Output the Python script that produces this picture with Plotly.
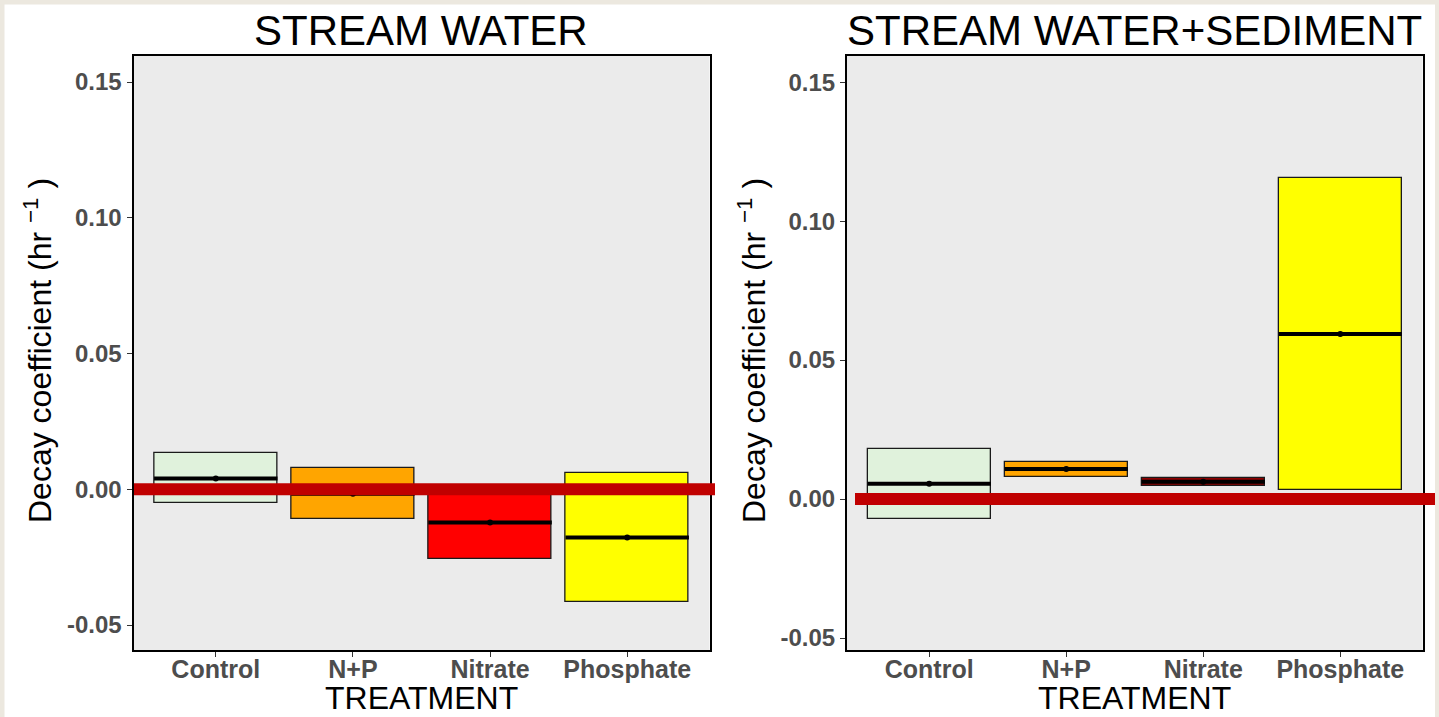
import plotly.graph_objects as go

# Treatments (same order in both panels)
treatments = ["Control", "N+P", "Nitrate", "Phosphate"]

# Stream water: box limits and medians of the decay coefficient (hr^-1)
water_lower = [-0.0052, -0.0108, -0.0255, -0.0415]
water_upper = [0.0132, 0.0080, -0.0012, 0.0060]
water_median = [0.0040, -0.0016, -0.0122, -0.0178]
water_colors = ["#E0F2DC", "#FFA500", "#FF0000", "#FFFF00"]

# Stream water + sediment
sed_lower = [-0.0070, 0.0079, 0.0048, 0.0034]
sed_upper = [0.0180, 0.0135, 0.0076, 0.1154]
sed_median = [0.0055, 0.0108, 0.0062, 0.0594]
sed_colors = ["#E0F2DC", "#FFA500", "#8B0000", "#FFFF00"]

panel_titles = ["STREAM WATER", "STREAM WATER+SEDIMENT"]
y_ticks = [-0.05, 0.0, 0.05, 0.10, 0.15]
y_ticktext = ["-0.05", "0.00", "0.05", "0.10", "0.15"]

W, H = 1439, 717
BOX_W = 0.9
FONT = "Liberation Sans, Arial, sans-serif"


def px(x):
    return x / W


def py(y):
    return 1 - y / H


fig = go.Figure()

panels = [
    dict(lower=water_lower, upper=water_upper, median=water_median,
         colors=water_colors, xa="x", ya="y"),
    dict(lower=sed_lower, upper=sed_upper, median=sed_median,
         colors=sed_colors, xa="x2", ya="y2"),
]

xpos = list(range(1, len(treatments) + 1))

for p in panels:
    heights = [u - l for u, l in zip(p["upper"], p["lower"])]
    fig.add_trace(go.Bar(
        x=xpos, y=heights, base=p["lower"], width=BOX_W,
        marker=dict(color=p["colors"], line=dict(color="#1a1a1a", width=1.3)),
        xaxis=p["xa"], yaxis=p["ya"], showlegend=False, hoverinfo="skip",
    ))
    mx, my = [], []
    for i, m in zip(xpos, p["median"]):
        mx += [i - BOX_W / 2, i + BOX_W / 2, None]
        my += [m, m, None]
    fig.add_trace(go.Scatter(
        x=mx, y=my, mode="lines", line=dict(color="black", width=4),
        xaxis=p["xa"], yaxis=p["ya"], showlegend=False, hoverinfo="skip",
    ))
    fig.add_trace(go.Scatter(
        x=xpos, y=p["median"], mode="markers",
        marker=dict(color="black", size=6),
        xaxis=p["xa"], yaxis=p["ya"], showlegend=False, hoverinfo="skip",
    ))

axis_common = dict(
    showline=True, linecolor="black", linewidth=2, mirror=True,
    showgrid=False, zeroline=False, ticks="outside", ticklen=5,
    tickcolor="#333333", tickwidth=1.2,
)
xtick_font = dict(family=FONT, size=25, color="#4D4D4D", weight="bold")
ytick_font = dict(family=FONT, size=24, color="#4D4D4D", weight="bold")

fig.update_layout(
    width=W, height=H,
    margin=dict(l=0, r=0, t=0, b=0),
    paper_bgcolor="white", plot_bgcolor="#EBEBEB",
    bargap=0, barmode="overlay",
    xaxis=dict(domain=[px(133.5), px(709.5)], range=[0.4, 4.6],
               tickvals=xpos, ticktext=treatments, tickfont=xtick_font,
               ticklabelstandoff=-9, **axis_common),
    yaxis=dict(domain=[py(650), py(56)], range=[-0.0592, 0.1596],
               tickvals=y_ticks, ticktext=y_ticktext, tickfont=ytick_font,
               **axis_common),
    xaxis2=dict(domain=[px(847), px(1422.5)], range=[0.4, 4.6], anchor="y2",
                tickvals=xpos, ticktext=treatments, tickfont=xtick_font,
                ticklabelstandoff=-9, **axis_common),
    yaxis2=dict(domain=[py(650), py(56)], range=[-0.0543, 0.1594], anchor="x2",
                tickvals=y_ticks, ticktext=y_ticktext, tickfont=ytick_font,
                **axis_common),
)

# Beige frame around the white page
beige = "#ECE8DF"
frame = [(0, 0, 4.5, H), (0, 0, W, 4.5), (1435, 0, W, H)]
for x0, y0, x1, y1 in frame:
    fig.add_shape(type="rect", xref="paper", yref="paper",
                  x0=px(x0), x1=px(x1), y0=py(y1), y1=py(y0),
                  fillcolor=beige, line=dict(width=0), layer="below")

# Zero reference lines
fig.add_shape(type="line", xref="paper", yref="y", x0=px(134), x1=px(715),
              y0=0, y1=0, line=dict(color="#C00000", width=12))
fig.add_shape(type="line", xref="paper", yref="y2", x0=px(855), x1=px(1435),
              y0=0, y1=0, line=dict(color="#C00000", width=12))

# Panel titles, axis titles
centers = [(133.5 + 709.5) / 2, (847 + 1422.5) / 2]
ytitle_x = [38, 752]
for c, t, yx in zip(centers, panel_titles, ytitle_x):
    fig.add_annotation(text=t, xref="paper", yref="paper", x=px(c), y=py(30),
                       xanchor="center", yanchor="middle", showarrow=False,
                       font=dict(family=FONT, size=42, color="black"))
    fig.add_annotation(text="TREATMENT", xref="paper", yref="paper",
                       x=px(c), y=py(698), xanchor="center", yanchor="middle",
                       showarrow=False, font=dict(family=FONT, size=32, color="black"))
    fig.add_annotation(text="Decay coefficient (hr <sup>−1</sup> )",
                       xref="paper", yref="paper", x=px(yx), y=py(351),
                       xanchor="center", yanchor="middle", textangle=-90,
                       showarrow=False, font=dict(family=FONT, size=32, color="black"))

fig.write_html("out.html")
